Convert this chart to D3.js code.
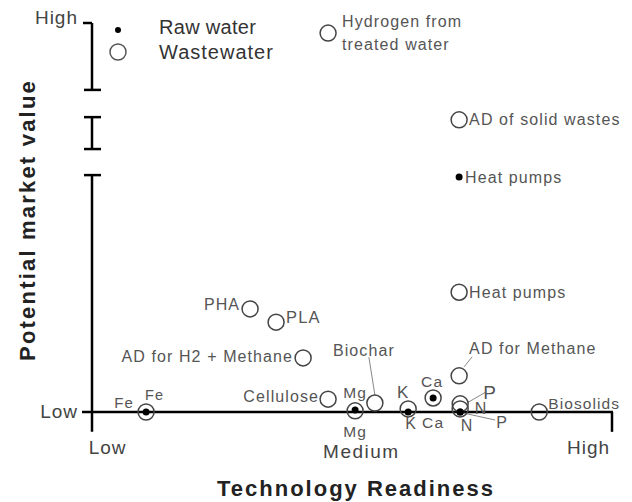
<html>
<head>
<script src="https://d3js.org/d3.v7.min.js"></script>
<style>
body { margin: 0; background: #fff; }
text { font-family: "Liberation Sans", Arial, sans-serif; }
</style>
</head>
<body>
<script>
// raw water points (filled dots)
var rawNames = ["Heat pumps", "Fe", "Mg", "K", "Ca", "N", "P"];
var rawX = [70.6, 10.4, 50.6, 60.8, 65.6, 70.8, 70.8];
var rawY = [60.4, 0, 0.5, 0, 3.6, 0, 0];
// wastewater points (open circles)
var wwNames = ["Hydrogen from treated water", "AD of solid wastes", "Heat pumps", "PHA", "PLA",
  "AD for H2 + Methane", "AD for Methane", "Cellulose", "Biochar", "Fe", "Mg", "K", "Ca", "N", "P", "Biosolids"];
var wwX = [45.4, 70.6, 70.6, 30.4, 35.4, 40.6, 70.6, 45.4, 54.4, 10.4, 50.6, 60.8, 65.6, 70.8, 70.8, 86];
var wwY = [97.4, 75.1, 30.8, 26.5, 23.1, 13.9, 9.3, 3.3, 2.3, 0, 0.3, 0.8, 3.6, 0.8, 2.1, 0];
// axis text
var xTickVals = [2.9, 51.7, 95.4];
var xTickText = ["Low", "Medium", "High"];
var yTickVals = [0, 100];
var yTickText = ["Low", "High"];
// broken y axis segments (value ranges)
var ySegments = [[-5.1, 60.9], [67.6, 75.8], [82.8, 100]];

var w = 632, h = 502;
var x = d3.scaleLinear().domain([0, 100]).range([92, 612]);
var y = d3.scaleLinear().domain([0, 100]).range([412, 23]);

var svg = d3.select("body").append("svg").attr("width", w).attr("height", h);

// label placement: dx, dy (pixels from the point), anchor, font size
var rawLab = {
  "Heat pumps": [6, 5.5, "start", 16],
  "Fe": [-12, -4.5, "end", 15],
  "Mg": [0, 27, "middle", 15.5],
  "K": [3, 16.5, "middle", 16],
  "Ca": [-1, -10.5, "middle", 15.5],
  "N": [7, 18.5, "middle", 16],
  "P": [42, 15.5, "middle", 16]
};
var wwLab = {
  "AD of solid wastes": [10, 5.5, "start", 16],
  "Heat pumps": [10, 5.5, "start", 16],
  "PHA": [-10, 1, "end", 16],
  "PLA": [10, 1, "start", 16.5],
  "AD for H2 + Methane": [-10, 4, "end", 16],
  "AD for Methane": [10, -21.5, "start", 16],
  "Cellulose": [-9, 2.5, "end", 16],
  "Biochar": [-42, -47.5, "start", 16],
  "Fe": [-1, -12.5, "start", 14.5],
  "Mg": [0, -12.5, "middle", 15.5],
  "K": [-5, -10.5, "middle", 17],
  "Ca": [0, 30.5, "middle", 15.5],
  "N": [21, 5.5, "middle", 16],
  "P": [30, -5, "middle", 19],
  "Biosolids": [9, -3.5, "start", 15.5]
};

// leader lines [name, x1,y1 offset, x2,y2 offset]
var leaders = [
  ["Biochar", -6, -46, 0, -8],
  ["AD for Methane", 13, -19, 5, -9],
  ["P", 26, -12, 7, -1]
];

// axes lines
var ax = svg.append("g").attr("stroke", "#000").attr("stroke-width", 2.5);
ySegments.forEach(function(s, i) {
  ax.append("line").attr("x1", x(0)).attr("x2", x(0)).attr("y1", y(s[0])).attr("y2", y(s[1]));
  if (i < 2) ax.append("line").attr("x1", x(0) - 8).attr("x2", x(0) + 9).attr("y1", y(s[1])).attr("y2", y(s[1]));
  if (i > 0) ax.append("line").attr("x1", x(0) - 8).attr("x2", x(0) + 9).attr("y1", y(s[0])).attr("y2", y(s[0]));
});
ax.append("line").attr("x1", x(0) - 9).attr("x2", x(0)).attr("y1", y(100)).attr("y2", y(100));
ax.append("line").attr("x1", x(0) - 10).attr("x2", x(100) + 1).attr("y1", y(0)).attr("y2", y(0));
ax.append("line").attr("x1", x(100)).attr("x2", x(100)).attr("y1", y(0)).attr("y2", y(-5.1));

// tick labels through d3 axes
var xAxis = d3.axisBottom(x).tickValues(xTickVals).tickSize(0).tickPadding(0)
  .tickFormat(function(d, i) { return xTickText[i]; });
var gx = svg.append("g").attr("transform", "translate(0," + y(0) + ")").call(xAxis);
gx.select(".domain").remove();
gx.selectAll("text").attr("font-size", 19).attr("fill", "#444")
  .attr("dy", function(d, i) { return i == 1 ? 46 : 42; })
  .style("letter-spacing", function(d, i) { return i == 1 ? "1.5px" : "1px"; })
  .style("font-family", "'Liberation Sans', Arial, sans-serif");

var yAxis = d3.axisLeft(y).tickValues(yTickVals).tickSize(0).tickPadding(14)
  .tickFormat(function(d, i) { return yTickText[i]; });
var gy = svg.append("g").attr("transform", "translate(" + x(0) + ",0)").call(yAxis);
gy.select(".domain").remove();
gy.selectAll("text").attr("font-size", 19).attr("fill", "#444")
  .attr("dy", function(d, i) { return i == 1 ? "0.05em" : "0.3em"; })
  .style("letter-spacing", "1px")
  .style("font-family", "'Liberation Sans', Arial, sans-serif");

// titles
svg.append("text").attr("x", 356).attr("y", 496).attr("text-anchor", "middle")
  .attr("font-size", 22).attr("font-weight", "bold").attr("fill", "#222")
  .style("letter-spacing", "2px").text("Technology Readiness");
svg.append("text").attr("transform", "translate(35,220) rotate(-90)").attr("text-anchor", "middle")
  .attr("font-size", 22).attr("font-weight", "bold").attr("fill", "#222")
  .style("letter-spacing", "2.2px").text("Potential market value");

// leader lines
var wwIdx = {};
wwNames.forEach(function(n, i) { wwIdx[n] = i; });
leaders.forEach(function(l) {
  var i = wwIdx[l[0]];
  var px = x(wwX[i]), py = y(wwY[i]);
  svg.append("line").attr("x1", px + l[1]).attr("y1", py + l[2]).attr("x2", px + l[3]).attr("y2", py + l[4])
    .attr("stroke", "#888").attr("stroke-width", 1);
});
// leader for raw P
var ip = rawNames.indexOf("P");
svg.append("line").attr("x1", x(rawX[ip]) + 3).attr("y1", y(rawY[ip]) + 1)
  .attr("x2", x(rawX[ip]) + 35).attr("y2", y(rawY[ip]) + 8).attr("stroke", "#888").attr("stroke-width", 1);

// wastewater circles
svg.append("g").selectAll("circle").data(wwNames).join("circle")
  .attr("cx", function(d, i) { return x(wwX[i]); })
  .attr("cy", function(d, i) { return y(wwY[i]); })
  .attr("r", 8).attr("fill", "none").attr("stroke", "#444").attr("stroke-width", 1.5);

// raw water dots
svg.append("g").selectAll("circle").data(rawNames).join("circle")
  .attr("cx", function(d, i) { return x(rawX[i]); })
  .attr("cy", function(d, i) { return y(rawY[i]); })
  .attr("r", 3.5).attr("fill", "#000");

// labels
function addLabels(names, xs, ys, lab) {
  names.forEach(function(n, i) {
    var o = lab[n];
    if (!o) return;
    svg.append("text").attr("x", x(xs[i]) + o[0]).attr("y", y(ys[i]) + o[1])
      .attr("text-anchor", o[2]).attr("font-size", o[3]).attr("fill", "#555")
      .style("letter-spacing", "1.1px").text(n);
  });
}
addLabels(rawNames, rawX, rawY, rawLab);
addLabels(wwNames, wwX, wwY, wwLab);

// hydrogen label on two lines
var ih = wwIdx["Hydrogen from treated water"];
var ht = svg.append("text").attr("x", x(wwX[ih]) + 14).attr("y", y(wwY[ih]) - 6.5)
  .attr("font-size", 16).attr("fill", "#555").style("letter-spacing", "1.1px");
ht.append("tspan").text("Hydrogen from");
ht.append("tspan").attr("x", x(wwX[ih]) + 14).attr("dy", 23).text("treated water");

// legend
svg.append("circle").attr("cx", 118).attr("cy", 30).attr("r", 3).attr("fill", "#000");
svg.append("circle").attr("cx", 118).attr("cy", 52).attr("r", 8).attr("fill", "none").attr("stroke", "#555").attr("stroke-width", 1.5);
svg.append("text").attr("x", 159).attr("y", 34).attr("font-size", 20).attr("fill", "#333")
  .style("letter-spacing", "0.3px").text("Raw water");
svg.append("text").attr("x", 159).attr("y", 59).attr("font-size", 20).attr("fill", "#333")
  .style("letter-spacing", "1px").text("Wastewater");
</script>
</body>
</html>
